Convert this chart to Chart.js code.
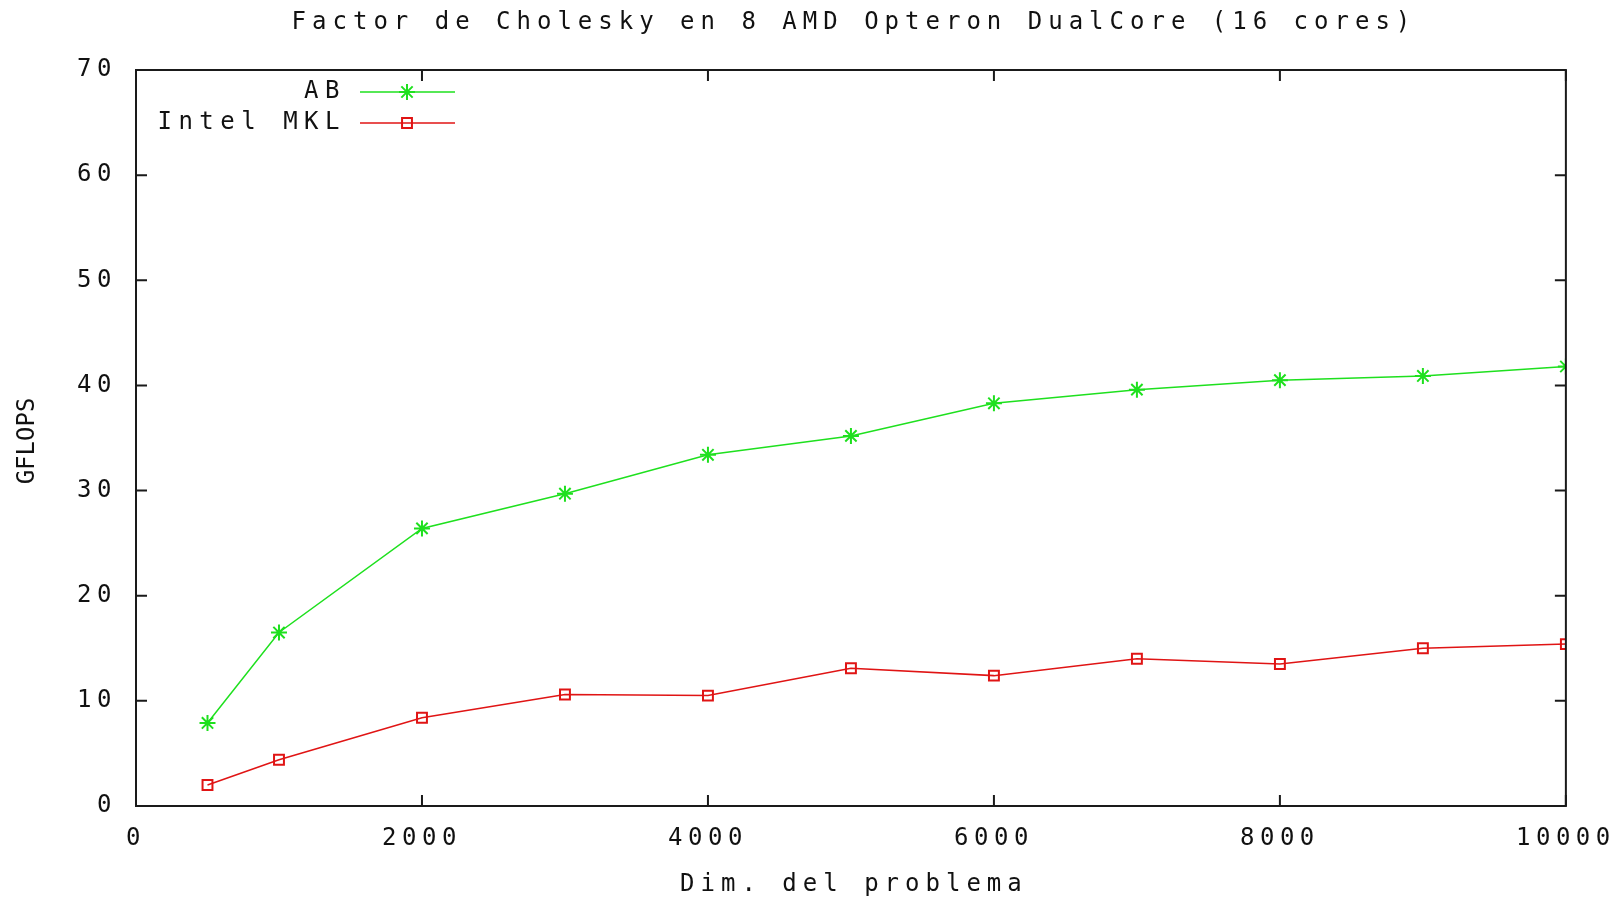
<!DOCTYPE html>
<html>
<head>
<meta charset="utf-8">
<script src="https://cdn.jsdelivr.net/npm/chart.js@4/dist/chart.umd.min.js"></script>
<style>
  html, body { margin: 0; padding: 0; background: #fff; }
  #wrap { width: 1620px; height: 899px; }
</style>
</head>
<body>
<div id="wrap"><canvas id="my-chart"></canvas></div>
<script>
// data
let dims = [500, 1000, 2000, 3000, 4000, 5000, 6000, 7000, 8000, 9000, 10000];
let abVals = [7.9, 16.5, 26.4, 29.7, 33.4, 35.2, 38.3, 39.6, 40.5, 40.9, 41.8];
let mklVals = [2.0, 4.4, 8.4, 10.6, 10.5, 13.1, 12.4, 14.0, 13.5, 15.0, 15.4];
let seriesNames = ["AB", "Intel MKL"];
let titleText = "Factor de Cholesky en 8 AMD Opteron DualCore (16 cores)";
let xTitle = "Dim. del problema";
let yTitle = "GFLOPS";

let green = "#1ee01e";
let red = "#e01414";
let mono = "'DejaVu Sans Mono', 'Liberation Mono', monospace";

// gnuplot look: frame, inward ticks, legend inside, titles
let gnuplotBits = {
  id: "gnuplotBits",
  beforeDraw(chart) {
    chart.ctx.letterSpacing = "5.5px";
  },
  afterDatasetsDraw(chart) {
    let ctx = chart.ctx;
    let a = chart.chartArea;
    let xs = chart.scales.x, ys = chart.scales.y;
    ctx.save();
    ctx.strokeStyle = "#1a1a1a";
    ctx.lineWidth = 2;
    ctx.strokeRect(a.left, a.top, a.right - a.left, a.bottom - a.top);
    ctx.beginPath();
    xs.ticks.forEach(t => {
      let px = xs.getPixelForValue(t.value);
      ctx.moveTo(px, a.bottom); ctx.lineTo(px, a.bottom - 11);
      ctx.moveTo(px, a.top); ctx.lineTo(px, a.top + 11);
    });
    ys.ticks.forEach(t => {
      let py = ys.getPixelForValue(t.value);
      ctx.moveTo(a.left, py); ctx.lineTo(a.left + 11, py);
      ctx.moveTo(a.right, py); ctx.lineTo(a.right - 11, py);
    });
    ctx.stroke();

    // legend
    ctx.font = "24px " + mono;
    ctx.textAlign = "right";
    ctx.textBaseline = "middle";
    chart.data.datasets.forEach((ds, i) => {
      let y = a.top + 22 + i * 31;
      ctx.letterSpacing = "6.5px";
      ctx.fillStyle = "#111";
      ctx.fillText(ds.label, a.left + 210, y);
      ctx.letterSpacing = "0px";
      ctx.strokeStyle = ds.borderColor;
      ctx.lineWidth = 1.5;
      ctx.beginPath();
      ctx.moveTo(a.left + 224, y); ctx.lineTo(a.left + 319, y);
      ctx.stroke();
      ctx.lineWidth = ds.pointBorderWidth;
      ctx.fillStyle = ds.pointBackgroundColor;
      Chart.helpers.drawPoint(ctx, {
        pointStyle: ds.pointStyle, radius: ds.pointRadius, rotation: 0,
        borderWidth: ds.pointBorderWidth
      }, a.left + 271, y);
    });

    ctx.fillStyle = "#111";
    ctx.textAlign = "center";
    let midX = (a.left + a.right) / 2;

    // title, centred on the plot like gnuplot
    ctx.letterSpacing = "6px";
    ctx.fillText(titleText, midX + 3, 23);

    // x axis title
    ctx.fillText(xTitle, midX + 3, 885);

    // y axis title
    ctx.letterSpacing = "0px";
    ctx.translate(28, (a.top + a.bottom) / 2 + 3);
    ctx.rotate(-Math.PI / 2);
    ctx.fillText(yTitle, 0, 0);
    ctx.restore();
  }
};

let myChart = document.getElementById("my-chart").getContext("2d");

let userChart = new Chart(myChart, {
  type: "line",
  data: {
    labels: dims,
    datasets: [
      {
        label: seriesNames[0],
        data: dims.map((d, i) => ({ x: d, y: abVals[i] })),
        borderColor: green,
        backgroundColor: green,
        borderWidth: 1.5,
        pointStyle: "star",
        pointRadius: 8,
        pointBorderWidth: 2,
        pointBorderColor: green,
        pointBackgroundColor: green,
      },
      {
        label: seriesNames[1],
        data: dims.map((d, i) => ({ x: d, y: mklVals[i] })),
        borderColor: red,
        backgroundColor: "rgba(0,0,0,0)",
        borderWidth: 1.5,
        pointStyle: "rect",
        pointRadius: 7,
        pointBorderWidth: 2,
        pointBorderColor: red,
        pointBackgroundColor: "rgba(0,0,0,0)",
      },
    ],
  },
  options: {
    responsive: true,
    maintainAspectRatio: false,
    animation: false,
    layout: { padding: { top: 70, right: 53, left: 0, bottom: 0 } },
    plugins: {
      legend: { display: false },
      title: { display: false },
      tooltip: { enabled: false },
    },
    scales: {
      x: {
        type: "linear",
        min: 0,
        max: 10000,
        ticks: {
          stepSize: 2000,
          color: "#111",
          padding: 18,
          maxRotation: 0,
          font: { family: mono, size: 24 },
          callback: (v) => String(v),
        },
        grid: { display: false, drawTicks: false },
        border: { display: false },
        afterFit(scale) { scale.height = 93; },
      },
      y: {
        min: 0,
        max: 70,
        ticks: {
          stepSize: 10,
          color: "#111",
          padding: 19,
          font: { family: mono, size: 24 },
        },
        grid: { display: false, drawTicks: false },
        border: { display: false },
        afterFit(scale) { scale.width = 136; },
      },
    },
  },
  plugins: [gnuplotBits],
});
</script>
</body>
</html>
